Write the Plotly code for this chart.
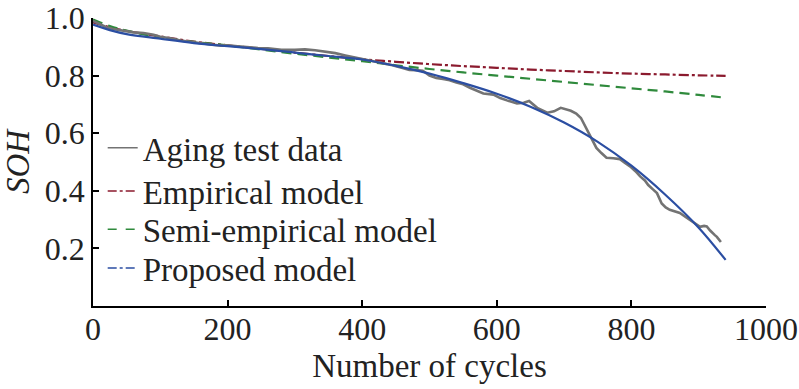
import plotly.graph_objects as go

# Aging test data (gray, measured)
aging_x = [0, 10, 20, 30, 45, 60, 75, 90, 100, 115, 130, 150, 165, 175, 190, 200, 215, 230, 245, 260,
           280, 300, 315, 330, 345, 360, 375, 390, 400, 415, 430, 445, 460, 470, 480, 490, 500, 510,
           520, 530, 540, 550, 560, 570, 580, 595, 605, 615, 630, 640, 648, 660, 675, 685, 695, 710,
           718, 725, 732, 740, 748, 755, 763, 773, 783, 790, 798, 806, 813, 820, 825, 832, 838, 845,
           851, 857, 865, 872, 880, 887, 895, 902, 908, 912, 917, 920, 924, 927, 930, 933]
aging_y = [0.990, 0.978, 0.968, 0.962, 0.955, 0.950, 0.948, 0.942, 0.935, 0.930, 0.922, 0.915, 0.912, 0.908, 0.904, 0.905, 0.902, 0.898, 0.896, 0.895,
           0.890, 0.890, 0.891, 0.888, 0.884, 0.878, 0.870, 0.863, 0.857, 0.851, 0.845, 0.836, 0.826, 0.820, 0.819, 0.817, 0.800, 0.792,
           0.788, 0.784, 0.776, 0.770, 0.758, 0.748, 0.738, 0.734, 0.722, 0.714, 0.703, 0.706, 0.712, 0.688, 0.671, 0.676, 0.688, 0.678,
           0.668, 0.653, 0.622, 0.582, 0.549, 0.532, 0.515, 0.513, 0.510, 0.498, 0.485, 0.468, 0.450, 0.436, 0.420, 0.405, 0.392, 0.356,
           0.342, 0.334, 0.328, 0.323, 0.310, 0.299, 0.287, 0.275, 0.278, 0.276, 0.262, 0.254, 0.246, 0.240, 0.232, 0.222]

# Empirical model
emp_x = [0, 25, 50, 100, 150, 200, 250, 300, 350, 400, 450, 500, 550, 600, 650, 700, 750, 800, 850, 900, 940]
emp_y = [0.985, 0.968, 0.955, 0.936, 0.918, 0.905, 0.893, 0.880, 0.868, 0.857, 0.848, 0.840, 0.833, 0.827, 0.821, 0.816, 0.811, 0.807, 0.804, 0.801, 0.799]

# Semi-empirical model
semi_x = [0, 25, 50, 100, 150, 200, 250, 300, 350, 400, 450, 500, 550, 600, 650, 700, 750, 800, 850, 900, 940]
semi_y = [0.995, 0.972, 0.956, 0.932, 0.917, 0.905, 0.890, 0.876, 0.863, 0.850, 0.836, 0.823, 0.811, 0.800, 0.789, 0.778, 0.767, 0.756, 0.745, 0.733, 0.723]

# Proposed model
prop_x = [0, 25, 50, 100, 150, 200, 250, 300, 350, 400, 450, 500, 550, 600, 650, 700, 750, 800, 850, 900, 940]
prop_y = [0.977, 0.958, 0.944, 0.928, 0.913, 0.902, 0.892, 0.880, 0.868, 0.856, 0.834, 0.807, 0.774, 0.737, 0.692, 0.637, 0.570, 0.487, 0.387, 0.272, 0.160]

x_ticks = [0, 200, 400, 600, 800, 1000]
y_ticks = [0.2, 0.4, 0.6, 0.8, 1.0]

series_names = ["Aging test data", "Empirical model", "Semi-empirical model", "Proposed model"]

FONT = "Liberation Serif"
TXT = "#222222"
GRAY = "#737373"
RED = "#8b1a2e"
GREEN = "#2f8a3c"
BLUE = "#2b4ea2"

fig = go.Figure()
fig.add_trace(go.Scatter(x=emp_x, y=emp_y, mode="lines",
                         line=dict(color=RED, width=2.2, dash="10px,3px,3px,3px", shape="spline"),
                         showlegend=False))
fig.add_trace(go.Scatter(x=semi_x, y=semi_y, mode="lines",
                         line=dict(color=GREEN, width=2.2, dash="10px,6px", shape="spline"),
                         showlegend=False))
fig.add_trace(go.Scatter(x=aging_x, y=aging_y, mode="lines", line=dict(color=GRAY, width=2.6),
                         showlegend=False))
fig.add_trace(go.Scatter(x=prop_x, y=prop_y, mode="lines", line=dict(color=BLUE, width=2.2, shape="spline"),
                         showlegend=False))

# legend entries (each in its own legend box for precise spacing)
legend_styles = [dict(color=GRAY, width=1.5),
                 dict(color=RED, width=1.5, dash="dashdot"),
                 dict(color=GREEN, width=1.5, dash="dash"),
                 dict(color=BLUE, width=1.5, dash="dashdot")]
legend_ids = ["legend", "legend2", "legend3", "legend4"]
for name, st, lid in zip(series_names, legend_styles, legend_ids):
    fig.add_trace(go.Scatter(x=[None], y=[None], mode="lines", name=name, line=st, legend=lid))

axis_common = dict(showline=True, linecolor="black", linewidth=1.5, ticks="inside", ticklen=6,
                   tickcolor="black", tickwidth=1.5, showgrid=False, zeroline=False, automargin=False,
                   ticklabeloverflow="allow",
                   tickfont=dict(family=FONT, size=32, color=TXT))

legend_y = [0.549, 0.399, 0.266, 0.132]
legend_layout = {}
for lid, ly in zip(legend_ids, legend_y):
    legend_layout[lid] = dict(x=0.0144, y=ly, xanchor="left", yanchor="middle", bgcolor="rgba(0,0,0,0)",
                              font=dict(family=FONT, size=33, color=TXT), itemwidth=30)

fig.update_layout(
    template="none",
    width=799, height=389,
    margin=dict(l=93, r=33, t=18, b=83),
    paper_bgcolor="white", plot_bgcolor="white",
    font=dict(family=FONT, color=TXT),
    xaxis=dict(range=[0, 1000], tickvals=x_ticks, ticktext=[str(v) for v in x_ticks],
               ticklabelstandoff=-6,
               title=dict(text="Number of cycles", font=dict(family=FONT, size=33, color=TXT), standoff=8),
               **axis_common),
    yaxis=dict(range=[0, 1.0], tickvals=y_ticks, ticktext=[f"{v:.1f}" for v in y_ticks],
               title=dict(text="<i>SOH</i>", font=dict(family=FONT, size=33, color=TXT), standoff=16),
               **axis_common),
    **legend_layout,
)

# remove the browser's default 8px body margin so the figure sits at the page origin
fig.write_html("out.html", config={"displayModeBar": False},
               post_script="document.body.style.margin='0px';document.body.style.overflow='hidden';")
